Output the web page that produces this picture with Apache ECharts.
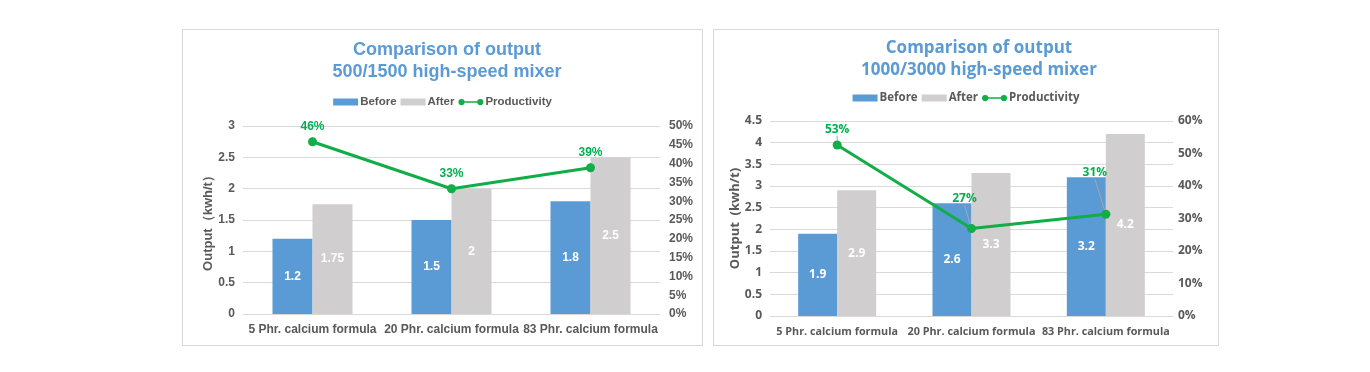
<!DOCTYPE html>
<html>
<head>
<meta charset="utf-8">
<script src="https://cdn.jsdelivr.net/npm/echarts@6/dist/echarts.min.js"></script>
<style>
  html, body { margin: 0; padding: 0; background: #ffffff; }
  body { width: 1370px; height: 372px; position: relative; overflow: hidden; }
  .panel { position: absolute; border: 1px solid #D9D9D9; box-sizing: border-box; background: #fff; }
</style>
</head>
<body>
<div id="chartA" class="panel" style="left:182px; top:29px; width:521px; height:317px;"></div>
<div id="chartB" class="panel" style="left:713px; top:29px; width:506px; height:317px;"></div>
<script>
// ---- data ----
const categories = ['5 Phr. calcium formula', '20 Phr. calcium formula', '83 Phr. calcium formula'];
const seriesNames = ['Before', 'After', 'Productivity'];

const titleA = 'Comparison of output\n500/1500 high-speed mixer';
const beforeA = [1.2, 1.5, 1.8];
const afterA = [1.75, 2, 2.5];
const prodA = [0.458, 0.333, 0.389];
const outputAxisA = [0, 3, 0.5];      // min, max, interval
const prodAxisA = [0, 0.5, 0.05];
const yNameA = 'Output（kwh/t）';

const titleB = 'Comparison of output\n1000/3000 high-speed mixer';
const beforeB = [1.9, 2.6, 3.2];
const afterB = [2.9, 3.3, 4.2];
const prodB = [0.526, 0.269, 0.313];
const outputAxisB = [0, 4.5, 0.5];
const prodAxisB = [0, 0.6, 0.1];
const yNameB = 'Output  (kwh/t)';

// ---- styling ----
const BLUE = '#5B9BD5', GRAY = '#D0CECE', GREEN = '#11AD47', TXT = '#595959';
const LINE_ICON = 'path://M0,4 a4,4 0 1,1 8,0 a4,4 0 1,1 -8,0 M7,3 L25,3 L25,5 L7,5 Z M24,4 a4,4 0 1,1 8,0 a4,4 0 1,1 -8,0';

function build(cfg) {
  const f = cfg.font;
  const fs = cfg.fontSize;
  return {
    animation: false,
    textStyle: { fontFamily: f },
    title: {
      text: cfg.title, left: cfg.titleLeft, top: cfg.titleTop, textAlign: 'center',
      textStyle: { color: BLUE, fontSize: cfg.titleSize, fontWeight: 'bold', fontFamily: f, lineHeight: 22 }
    },
    legend: {
      top: cfg.legendTop, left: 'center', itemGap: 4, itemWidth: 25, itemHeight: 7,
      textStyle: { color: TXT, fontSize: cfg.legendSize, fontWeight: 'bold', fontFamily: f, padding: [0, 0, 0, -3] },
      data: [
        { name: seriesNames[0], icon: 'rect' },
        { name: seriesNames[1], icon: 'rect' },
        { name: seriesNames[2], icon: LINE_ICON, itemStyle: { color: GREEN } }
      ]
    },
    grid: cfg.grid,
    xAxis: {
      type: 'category', data: categories,
      axisLine: { lineStyle: { color: '#D9D9D9' } },
      axisTick: { show: false },
      axisLabel: { interval: 0, color: TXT, fontSize: cfg.catSize, fontWeight: 'bold', fontFamily: f, margin: 10 }
    },
    yAxis: [
      {
        type: 'value', min: cfg.outAxis[0], max: cfg.outAxis[1], interval: cfg.outAxis[2],
        name: cfg.yName, nameLocation: 'middle', nameGap: 28, nameRotate: 90, nameMoveOverlap: false,
        nameTextStyle: { color: TXT, fontSize: fs + 1, fontWeight: 'bold', fontFamily: f },
        axisLine: { show: false }, axisTick: { show: false },
        axisLabel: { color: TXT, fontSize: fs, fontWeight: 'bold', fontFamily: f, margin: 8 },
        splitLine: { lineStyle: { color: '#D9D9D9' } }
      },
      {
        type: 'value', min: cfg.prodAxis[0], max: cfg.prodAxis[1], interval: cfg.prodAxis[2],
        axisLine: { show: false }, axisTick: { show: false },
        axisLabel: { color: TXT, fontSize: fs, fontWeight: 'bold', fontFamily: f, margin: cfg.rightMargin,
          formatter: v => Math.round(v * 100) + '%' },
        splitLine: { show: false }
      }
    ],
    series: [
      {
        name: seriesNames[0], type: 'bar', data: cfg.before, barWidth: cfg.barWidth, barGap: '0%',
        itemStyle: { color: BLUE },
        label: { show: true, position: 'inside', color: '#fff', fontSize: fs, fontWeight: 'bold', fontFamily: f }
      },
      {
        name: seriesNames[1], type: 'bar', data: cfg.after, barWidth: cfg.barWidth, barGap: '0%',
        itemStyle: { color: GRAY },
        label: { show: true, position: 'inside', color: '#fff', fontSize: fs, fontWeight: 'bold', fontFamily: f }
      },
      {
        name: seriesNames[2], type: 'line', yAxisIndex: 1, data: cfg.prod,
        symbol: 'circle', symbolSize: 9, z: 5,
        lineStyle: { color: GREEN, width: 3 }, itemStyle: { color: GREEN },
        label: { show: true, position: 'top', distance: 5, color: '#00B050', fontSize: fs, fontWeight: 'bold', fontFamily: f,
          formatter: p => Math.round(p.value * 100) + '%' },
        labelLine: { show: true, lineStyle: { color: '#A6A6A6', width: 1 } },
        labelLayout: cfg.labelLayout
      }
    ]
  };
}

const chartA = echarts.init(document.getElementById('chartA'), null, { renderer: 'canvas' });
chartA.setOption(build({
  font: 'Liberation Sans, Arial, sans-serif', fontSize: 12, catSize: 12, legendSize: 11.5,
  title: titleA, titleLeft: 259, titleTop: 4, titleSize: 18, legendTop: 61,
  grid: { left: 60, right: 42, top: 96, bottom: 31 }, rightMargin: 9,
  outAxis: outputAxisA, prodAxis: prodAxisA, yName: yNameA,
  before: beforeA, after: afterA, prod: prodA, barWidth: 40,
  labelLayout: null
}));

const chartB = echarts.init(document.getElementById('chartB'), null, { renderer: 'canvas' });
chartB.setOption(build({
  font: 'Open Sans, Noto Sans, sans-serif', fontSize: 12, catSize: 10.8, legendSize: 11.5,
  title: titleB, titleLeft: 260, titleTop: 2, titleSize: 17, legendTop: 57,
  grid: { left: 56, right: 45, top: 91, bottom: 29 }, rightMargin: 5,
  outAxis: outputAxisB, prodAxis: prodAxisB, yName: yNameB,
  before: beforeB, after: afterB, prod: prodB, barWidth: 39,
  labelLayout: function (p) {
    if (p.dataIndex === 1) return { dx: -7, dy: -14 };
    if (p.dataIndex === 2) return { dx: -11, dy: -26 };
    return {};
  }
}));
</script>
</body>
</html>
